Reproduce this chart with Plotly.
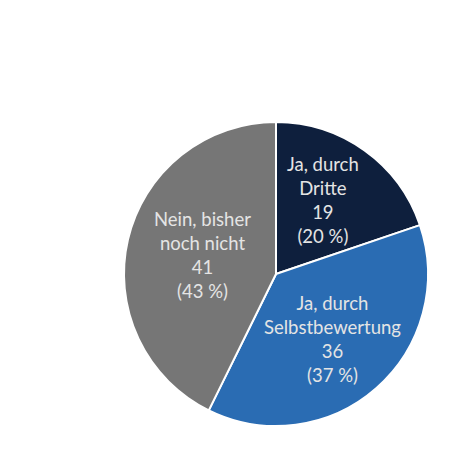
import plotly.graph_objects as go

labels = ["Ja, durch Dritte", "Ja, durch Selbstbewertung", "Nein, bisher noch nicht"]
label_lines = ["Ja, durch<br>Dritte", "Ja, durch<br>Selbstbewertung", "Nein, bisher<br>noch nicht"]
values = [19, 36, 41]
percent_text = ["20 %", "37 %", "43 %"]
colors = ["#0e1f3d", "#2a6cb3", "#767676"]

# label anchor positions (paper coords)
label_x = [323 / 470, 332 / 470, 202 / 470]
label_y = [1 - 200 / 470, 1 - 339 / 470, 1 - 255 / 470]

fig = go.Figure(go.Pie(
    labels=labels,
    values=values,
    sort=False,
    direction="clockwise",
    rotation=0,
    marker=dict(colors=colors, line=dict(color="white", width=2)),
    textinfo="none",
    hoverinfo="label+value+percent",
    showlegend=False,
    domain=dict(x=[124 / 470, 428 / 470], y=[1 - 426 / 470, 1 - 122 / 470]),
))

for i in range(len(values)):
    fig.add_annotation(
        x=label_x[i], y=label_y[i], xref="paper", yref="paper",
        xanchor="center", yanchor="middle",
        text=f"{label_lines[i]}<br>{values[i]}<br>({percent_text[i]})",
        showarrow=False, align="center",
        font=dict(family="Lato, Open Sans, sans-serif", size=18.5, color="#e4e4e4"),
    )

fig.update_layout(
    width=470, height=470,
    margin=dict(l=0, r=0, t=0, b=0),
    paper_bgcolor="white", plot_bgcolor="white",
)

fig.write_html("out.html")
